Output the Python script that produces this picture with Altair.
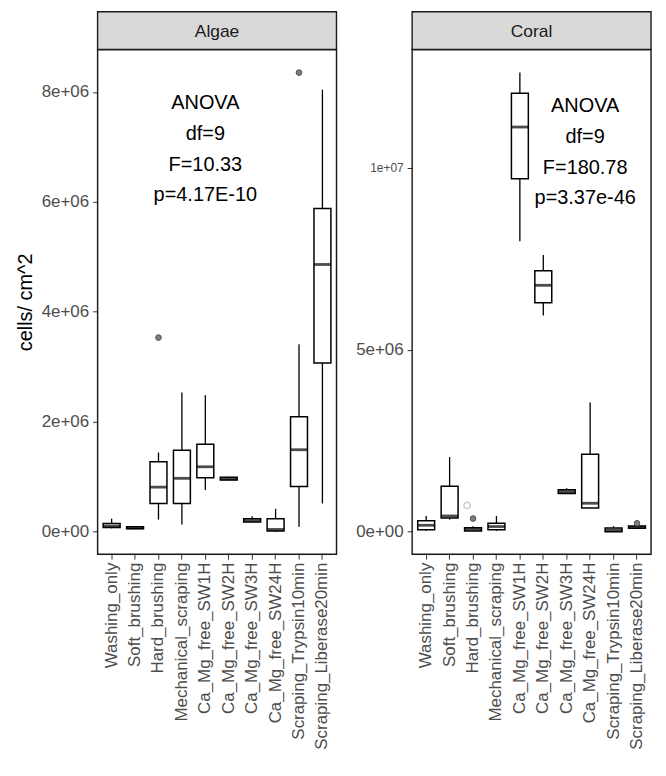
import altair as alt
import pandas as pd

FONT = "Liberation Sans"

categories = ["Washing_only", "Soft_brushing", "Hard_brushing", "Mechanical_scraping",
              "Ca_Mg_free_SW1H", "Ca_Mg_free_SW2H", "Ca_Mg_free_SW3H", "Ca_Mg_free_SW24H",
              "Scraping_Trypsin10min", "Scraping_Liberase20min"]

# Algae box statistics (cells/cm^2)
algae_lo = [0.06e6, 0.05e6, 0.22e6, 0.13e6, 0.76e6, 0.93e6, 0.17e6, 0.0e6, 0.09e6, 0.51e6]
algae_q1 = [0.075e6, 0.055e6, 0.51e6, 0.51e6, 0.98e6, 0.94e6, 0.175e6, 0.01e6, 0.82e6, 3.07e6]
algae_med = [0.10e6, 0.07e6, 0.81e6, 0.97e6, 1.18e6, 0.96e6, 0.20e6, 0.04e6, 1.49e6, 4.86e6]
algae_q3 = [0.15e6, 0.09e6, 1.27e6, 1.48e6, 1.59e6, 0.99e6, 0.235e6, 0.235e6, 2.09e6, 5.88e6]
algae_hi = [0.235e6, 0.10e6, 1.44e6, 2.53e6, 2.48e6, 1.0e6, 0.28e6, 0.415e6, 3.41e6, 8.04e6]
algae_out_cat = ["Hard_brushing", "Scraping_Trypsin10min"]
algae_out_val = [3.53e6, 8.35e6]

# Coral box statistics (cells/cm^2)
coral_lo = [0.02e6, 0.33e6, 0.02e6, 0.02e6, 7.98e6, 5.94e6, 1.05e6, 0.65e6, 0.0e6, 0.09e6]
coral_q1 = [0.055e6, 0.375e6, 0.02e6, 0.055e6, 9.70e6, 6.29e6, 1.05e6, 0.65e6, 0.0e6, 0.09e6]
coral_med = [0.175e6, 0.43e6, 0.06e6, 0.14e6, 11.12e6, 6.77e6, 1.10e6, 0.78e6, 0.04e6, 0.12e6]
coral_q3 = [0.30e6, 1.25e6, 0.11e6, 0.23e6, 12.05e6, 7.17e6, 1.15e6, 2.125e6, 0.10e6, 0.155e6]
coral_hi = [0.43e6, 2.05e6, 0.15e6, 0.43e6, 12.62e6, 7.60e6, 1.19e6, 3.55e6, 0.15e6, 0.155e6]
coral_out_cat = ["Hard_brushing", "Scraping_Liberase20min"]
coral_out_val = [0.36e6, 0.23e6]
coral_open_cat = ["Hard_brushing"]
coral_open_val = [0.72e6]

algae_ticks = [0, 2e6, 4e6, 6e6, 8e6]
coral_ticks = [0, 5e6, 1e7]
algae_domain = [-0.41e6, 8.77e6]
coral_domain = [-0.62e6, 13.25e6]

algae_anova = "ANOVA\ndf=9\nF=10.33\np=4.17E-10"
coral_anova = "ANOVA\ndf=9\nF=180.78\np=3.37e-46"

W = 240
H = 507


def panel(name, lo, q1, med, q3, hi, out_cat, out_val, ticks, domain,
          anova_text, anova_cat, anova_val, anova_dx, ytitle, open_cat=None, open_val=None):
    df = pd.DataFrame({"cat": categories, "lo": lo, "q1": q1, "med": med, "q3": q3, "hi": hi})
    xenc = alt.X("cat:N", sort=categories, title=None,
                 scale=alt.Scale(type="band", paddingInner=0, paddingOuter=0.1),
                 axis=alt.Axis(labelAngle=270, labelFontSize=17, labelColor="#4D4D4D",
                               labelFont=FONT, tickSize=5, tickColor="#333333",
                               labelPadding=3, domain=False, labelLimit=400))
    if ytitle:
        lfs = 17
    else:
        lfs = {"condition": {"test": "datum.value == 10000000", "value": 12}, "value": 17}
    yaxis = alt.Axis(values=ticks, grid=False, domain=False, tickSize=5, tickColor="#333333",
                     labelFontSize=lfs, labelColor="#4D4D4D", labelFont=FONT, labelPadding=4,
                     labelExpr="replace(format(datum.value, '.0e'), 'e+', 'e+0')",
                     titleFontSize=20, titleFontWeight="normal", titleColor="black",
                     titleFont=FONT, titlePadding=6)
    yscale = alt.Scale(domain=domain, nice=False, zero=False)

    def Y(field):
        return alt.Y(field, scale=yscale, axis=yaxis, title=ytitle)

    whisk = alt.Chart(df).mark_rule(color="black", strokeWidth=1.3).encode(
        x=xenc, y=Y("lo:Q"), y2="hi:Q")
    box = alt.Chart(df).mark_bar(size=17, fill="white", stroke="black", strokeWidth=1.5).encode(
        x=xenc, y=Y("q1:Q"), y2="q3:Q")
    medi = alt.Chart(df).mark_tick(size=17, thickness=2.8, color="black").encode(
        x=xenc, y=Y("med:Q"))
    odf = pd.DataFrame({"cat": out_cat, "v": out_val})
    outl = alt.Chart(odf).mark_point(filled=True, fill="#7F7F7F", stroke="#4D4D4D",
                                     strokeWidth=1, size=32, opacity=1).encode(
        x=xenc, y=Y("v:Q"))
    adf = pd.DataFrame({"cat": [anova_cat], "v": [anova_val], "t": [anova_text]})
    anova = alt.Chart(adf).mark_text(lineBreak="\n", lineHeight=31, fontSize=20, font=FONT,
                                     color="black", align="center", baseline="middle",
                                     dx=anova_dx).encode(
        x=xenc, y=Y("v:Q"), text="t:N")
    sdf = pd.DataFrame({"label": [name]})
    border = alt.Chart(sdf).mark_rect(fill="transparent", stroke="#1A1A1A", strokeWidth=1.4).encode(
        x=alt.value(0), x2=alt.value(W), y=alt.value(0), y2=alt.value(H))
    strip = alt.Chart(sdf).mark_rect(fill="#D9D9D9", stroke="#1A1A1A", strokeWidth=1.4).encode(
        x=alt.value(0), x2=alt.value(W), y=alt.value(-38), y2=alt.value(0))
    stext = alt.Chart(sdf).mark_text(fontSize=17.5, font=FONT, color="#1A1A1A",
                                     align="center", baseline="middle").encode(
        x=alt.value(W / 2), y=alt.value(-18), text="label:N")
    layers = [whisk, box, medi, outl]
    if open_cat:
        pdf = pd.DataFrame({"cat": open_cat, "v": open_val})
        layers.append(alt.Chart(pdf).mark_point(filled=False, color="#B4B4CC", size=40,
                                                strokeWidth=1.5, xOffset=-6).encode(
            x=xenc, y=Y("v:Q")))
    layers += [anova, border, strip, stext]
    return alt.layer(*layers).properties(width=W, height=H)


algae = panel("Algae", algae_lo, algae_q1, algae_med, algae_q3, algae_hi,
              algae_out_cat, algae_out_val, algae_ticks, algae_domain,
              algae_anova, "Ca_Mg_free_SW1H", 7.80e6, 0, "cells/ cm^2")
coral = panel("Coral", coral_lo, coral_q1, coral_med, coral_q3, coral_hi,
              coral_out_cat, coral_out_val, coral_ticks, coral_domain,
              coral_anova, "Ca_Mg_free_SW24H", 11.70e6, -5, None,
              coral_open_cat, coral_open_val)

chart = alt.hconcat(algae, coral, spacing=16).properties(
    padding={"left": 6, "top": 0, "right": 5, "bottom": 0}
).configure_view(stroke=None).configure(font=FONT)

chart.save("out.html", embed_options={"renderer": "svg", "actions": False})
